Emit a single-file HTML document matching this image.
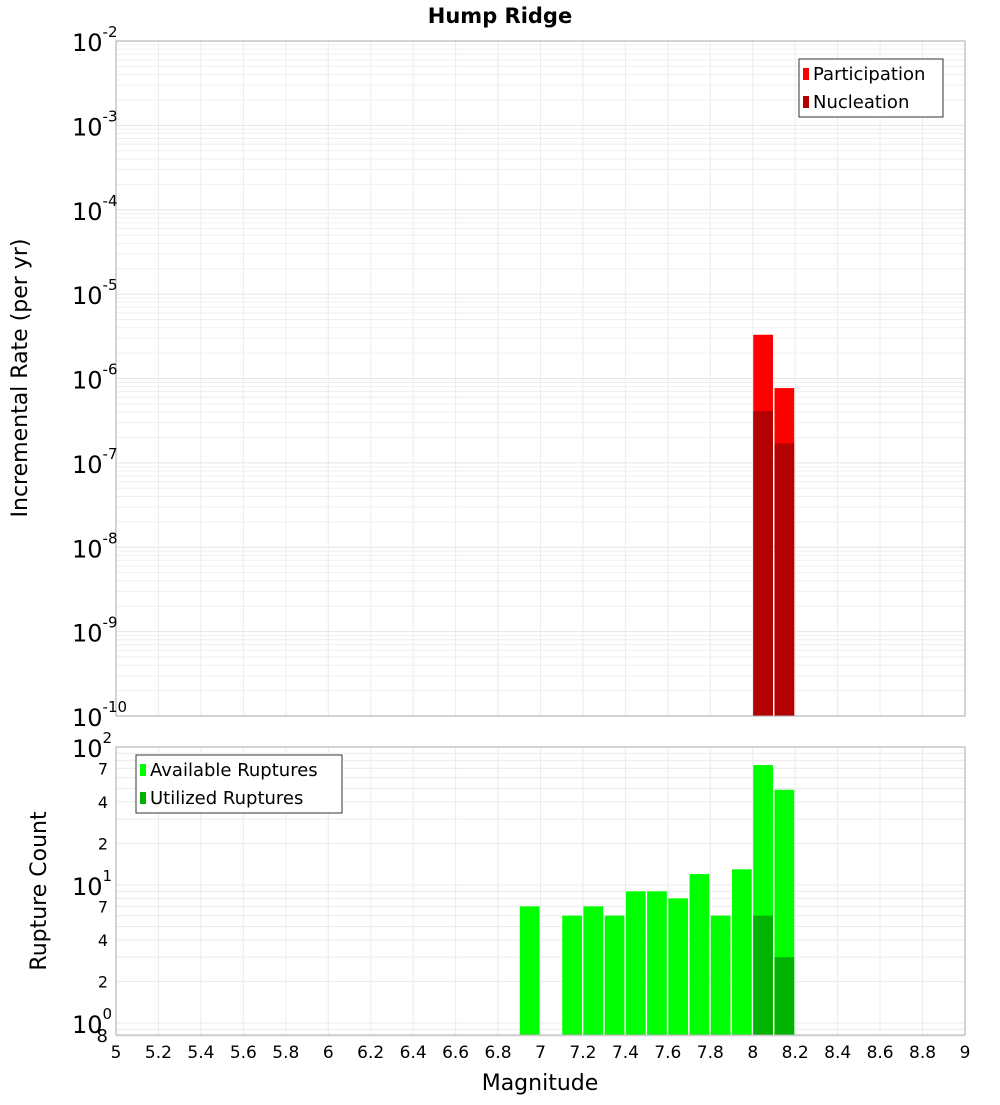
<!DOCTYPE html>
<html><head><meta charset="utf-8"><style>
body{margin:0;background:#fff}
text{font-family:"DejaVu Sans","Liberation Sans",sans-serif}
</style></head><body>
<svg id="chart" width="1000" height="1100" xmlns="http://www.w3.org/2000/svg">
<text x="500" y="23" text-anchor="middle" font-size="21" font-weight="bold">Hump Ridge</text>
<g id="topg"></g>
<g id="botg"></g>
<text x="540" y="1090" text-anchor="middle" font-size="22">Magnitude</text>
<text transform="translate(27,378) rotate(-90)" text-anchor="middle" font-size="22">Incremental Rate (per yr)</text>
<text transform="translate(46,891) rotate(-90)" text-anchor="middle" font-size="22">Rupture Count</text>
</svg>
<script>
const binStarts=[6.9,7.1,7.2,7.3,7.4,7.5,7.6,7.7,7.8,7.9,8.0,8.1];
const available=[7,6,7,6,9,9,8,12,6,13,74,49];
const utilizedBins=[8.0,8.1];
const utilized=[6,3];
const rateBins=[8.0,8.1];
const participation=[3.3e-6,7.7e-7];
const nucleation=[4.1e-7,1.7e-7];
const xTicks=[5,5.2,5.4,5.6,5.8,6,6.2,6.4,6.6,6.8,7,7.2,7.4,7.6,7.8,8,8.2,8.4,8.6,8.8,9];
const topExps=[-2,-3,-4,-5,-6,-7,-8,-9,-10];
const botMinor=[2,4,7,20,40,70];

const NS="http://www.w3.org/2000/svg";
const X0=116,X1=965;
const xs=m=>X0+(m-5)/4*(X1-X0);
const TT=41,TB=716;
const yT=v=>TT+(-2-Math.log10(v))*(TB-TT)/8;
const BT=747,BB=1035,DEC=138;
const yB=v=>BT+(2-Math.log10(v))*DEC;
function el(p,t,a){const e=document.createElementNS(NS,t);for(const k in a)e.setAttribute(k,a[k]);p.appendChild(e);return e;}
const topG=document.getElementById('topg'),botG=document.getElementById('botg');

for(let d=-10;d<-2;d++)for(let k=1;k<10;k++){const y=yT(k*Math.pow(10,d));
 const g=el(topG,'line',{x1:X0,x2:X1,y1:y,y2:y,stroke:k==1?'#e4e4e4':'#efefef','stroke-width':1});
 
 }
xTicks.forEach(t=>{const x=xs(t);
 const g=el(topG,'line',{x1:x,x2:x,y1:TT,y2:TB,stroke:'#ececec'});
 
 
 const g2=el(botG,'line',{x1:x,x2:x,y1:BT,y2:BB,stroke:'#ececec'});
 
 });
[0.8,0.9,1,2,3,4,5,6,7,8,9,10,20,30,40,50,60,70,80,90].forEach(v=>{const y=yB(v);
 const g=el(botG,'line',{x1:X0,x2:X1,y1:y,y2:y,stroke:'#ececec'});
 
 });

const bw=(X1-X0)/40;
rateBins.forEach((b,i)=>{const x=xs(b)+0.5,w=bw-1.5;
 let r=el(topG,'rect',{x:x,y:yT(participation[i]),width:w,height:TB-yT(participation[i]),fill:'#ff0000'});
 
 
 r=el(topG,'rect',{x:x,y:yT(nucleation[i]),width:w,height:TB-yT(nucleation[i]),fill:'#b30000'});
 
 });
binStarts.forEach((b,i)=>{const x=xs(b)+0.5,w=bw-1.5;
 const r=el(botG,'rect',{x:x,y:yB(available[i]),width:w,height:BB-yB(available[i]),fill:'#00ff00'});
 
 });
utilizedBins.forEach((b,i)=>{const x=xs(b)+0.5,w=bw-1.5;
 const r=el(botG,'rect',{x:x,y:yB(utilized[i]),width:w,height:BB-yB(utilized[i]),fill:'#00b300'});
 
 });

let f=el(topG,'rect',{x:X0,y:TT,width:X1-X0,height:TB-TT,fill:'none',stroke:'#aaa'});


f=el(botG,'rect',{x:X0,y:BT,width:X1-X0,height:BB-BT,fill:'none',stroke:'#aaa'});



topExps.forEach(e=>{const y=yT(Math.pow(10,e));
 const t=el(topG,'text',{x:72,y:y+10,'font-size':24});
 
 
 const a=el(t,'tspan',{});a.textContent='10';
 const s=el(t,'tspan',{dy:-14,'font-size':15});s.textContent=String(e);});
[[100,'2'],[10,'1'],[1,'0']].forEach(([v,e])=>{const y=yB(v);
 const t=el(botG,'text',{x:72,y:y+10,'font-size':24});
 
 
 const a=el(t,'tspan',{});a.textContent='10';
 const s=el(t,'tspan',{dy:-14,'font-size':15});s.textContent=e;});
botMinor.forEach(v=>{const t=el(botG,'text',{x:108,y:yB(v)+6,'text-anchor':'end','font-size':16});
 
 
 t.textContent=String(v).charAt(0);});
let t8=el(botG,'text',{x:108,y:1042,'text-anchor':'end','font-size':18});


t8.textContent='8';
xTicks.forEach(v=>{const t=el(botG,'text',{x:xs(v),y:1058,'text-anchor':'middle','font-size':17});
 
 
 t.textContent=String(v);});

function legend(p,x,y,w,items,name){const g=el(p,'g',{});
 
 
 el(g,'rect',{x:x,y:y,width:w,height:58,fill:'#fff',stroke:'#333'});
 items.forEach(([c,l],i)=>{el(g,'rect',{x:x+4,y:y+9+i*28,width:6,height:12,fill:c});
  const t=el(g,'text',{x:x+14,y:y+21+i*28,'font-size':18});t.textContent=l;
  
  });}
legend(topG,799,59,144,[['#ff0000','Participation'],['#b30000','Nucleation']],'rate-legend');
legend(botG,136,755,206,[['#00ff00','Available Ruptures'],['#00b300','Utilized Ruptures']],'count-legend');
</script>
</body></html>
